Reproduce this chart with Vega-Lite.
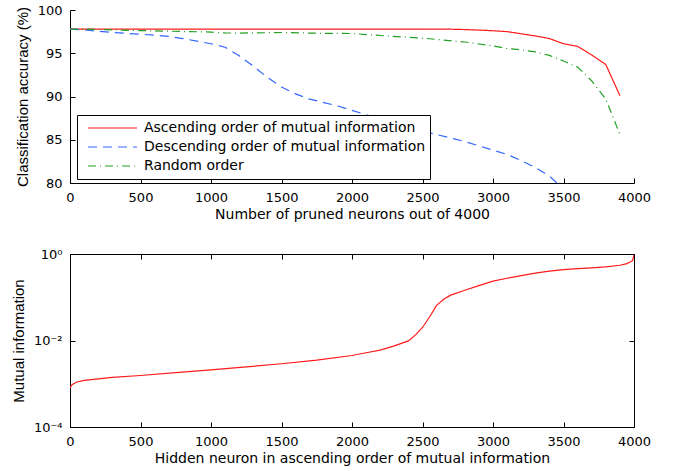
{
  "$schema": "https://vega.github.io/schema/vega-lite/v6.json",
  "padding": {"left": 10, "top": 4, "right": 10, "bottom": 4},
  "spacing": 26,
  "config": {
    "font": "DejaVu Sans",
    "axis": {
      "grid": false,
      "domainColor": "black",
      "tickColor": "black",
      "tickSize": -5,
      "labelFontSize": 13,
      "labelColor": "black",
      "titleFontSize": 14,
      "titleFontWeight": "normal",
      "titleColor": "black",
      "labelFont": "DejaVu Sans",
      "titleFont": "DejaVu Sans",
      "format": "d"
    },
    "axisX": {"labelPadding": 13, "titlePadding": 3, "labelFlush": false},
    "axisY": {"labelPadding": 13, "titlePadding": 7, "labelFlush": false, "titleFont": "Liberation Sans", "titleFontSize": 15}
  },
  "datasets": {
    "pruning": [
      {"n": 0, "acc": 97.8, "series": "Ascending order of mutual information"},
      {"n": 500, "acc": 97.8, "series": "Ascending order of mutual information"},
      {"n": 1000, "acc": 97.8, "series": "Ascending order of mutual information"},
      {"n": 1500, "acc": 97.8, "series": "Ascending order of mutual information"},
      {"n": 2000, "acc": 97.8, "series": "Ascending order of mutual information"},
      {"n": 2500, "acc": 97.8, "series": "Ascending order of mutual information"},
      {"n": 2700, "acc": 97.78, "series": "Ascending order of mutual information"},
      {"n": 2800, "acc": 97.74, "series": "Ascending order of mutual information"},
      {"n": 2900, "acc": 97.68, "series": "Ascending order of mutual information"},
      {"n": 3000, "acc": 97.6, "series": "Ascending order of mutual information"},
      {"n": 3100, "acc": 97.5, "series": "Ascending order of mutual information"},
      {"n": 3200, "acc": 97.25, "series": "Ascending order of mutual information"},
      {"n": 3300, "acc": 97.0, "series": "Ascending order of mutual information"},
      {"n": 3400, "acc": 96.7, "series": "Ascending order of mutual information"},
      {"n": 3500, "acc": 96.1, "series": "Ascending order of mutual information"},
      {"n": 3600, "acc": 95.8, "series": "Ascending order of mutual information"},
      {"n": 3700, "acc": 94.8, "series": "Ascending order of mutual information"},
      {"n": 3800, "acc": 93.7, "series": "Ascending order of mutual information"},
      {"n": 3900, "acc": 90.1, "series": "Ascending order of mutual information"},
      {"n": 0, "acc": 97.8, "series": "Descending order of mutual information"},
      {"n": 100, "acc": 97.7, "series": "Descending order of mutual information"},
      {"n": 200, "acc": 97.55, "series": "Descending order of mutual information"},
      {"n": 300, "acc": 97.4, "series": "Descending order of mutual information"},
      {"n": 400, "acc": 97.3, "series": "Descending order of mutual information"},
      {"n": 500, "acc": 97.2, "series": "Descending order of mutual information"},
      {"n": 600, "acc": 97.1, "series": "Descending order of mutual information"},
      {"n": 700, "acc": 96.95, "series": "Descending order of mutual information"},
      {"n": 800, "acc": 96.7, "series": "Descending order of mutual information"},
      {"n": 900, "acc": 96.4, "series": "Descending order of mutual information"},
      {"n": 1000, "acc": 96.1, "series": "Descending order of mutual information"},
      {"n": 1100, "acc": 95.7, "series": "Descending order of mutual information"},
      {"n": 1200, "acc": 94.7, "series": "Descending order of mutual information"},
      {"n": 1300, "acc": 93.5, "series": "Descending order of mutual information"},
      {"n": 1400, "acc": 92.2, "series": "Descending order of mutual information"},
      {"n": 1500, "acc": 91.1, "series": "Descending order of mutual information"},
      {"n": 1600, "acc": 90.3, "series": "Descending order of mutual information"},
      {"n": 1700, "acc": 89.7, "series": "Descending order of mutual information"},
      {"n": 1800, "acc": 89.3, "series": "Descending order of mutual information"},
      {"n": 1900, "acc": 88.9, "series": "Descending order of mutual information"},
      {"n": 2000, "acc": 88.4, "series": "Descending order of mutual information"},
      {"n": 2100, "acc": 87.9, "series": "Descending order of mutual information"},
      {"n": 2200, "acc": 87.4, "series": "Descending order of mutual information"},
      {"n": 2300, "acc": 86.9, "series": "Descending order of mutual information"},
      {"n": 2400, "acc": 86.4, "series": "Descending order of mutual information"},
      {"n": 2500, "acc": 86.0, "series": "Descending order of mutual information"},
      {"n": 2600, "acc": 85.6, "series": "Descending order of mutual information"},
      {"n": 2700, "acc": 85.2, "series": "Descending order of mutual information"},
      {"n": 2800, "acc": 84.8, "series": "Descending order of mutual information"},
      {"n": 2900, "acc": 84.3, "series": "Descending order of mutual information"},
      {"n": 3000, "acc": 83.8, "series": "Descending order of mutual information"},
      {"n": 3100, "acc": 83.3, "series": "Descending order of mutual information"},
      {"n": 3200, "acc": 82.6, "series": "Descending order of mutual information"},
      {"n": 3300, "acc": 81.8, "series": "Descending order of mutual information"},
      {"n": 3400, "acc": 80.8, "series": "Descending order of mutual information"},
      {"n": 3500, "acc": 79.3, "series": "Descending order of mutual information"},
      {"n": 0, "acc": 97.8, "series": "Random order"},
      {"n": 100, "acc": 97.8, "series": "Random order"},
      {"n": 200, "acc": 97.75, "series": "Random order"},
      {"n": 300, "acc": 97.7, "series": "Random order"},
      {"n": 500, "acc": 97.62, "series": "Random order"},
      {"n": 700, "acc": 97.55, "series": "Random order"},
      {"n": 1000, "acc": 97.45, "series": "Random order"},
      {"n": 1100, "acc": 97.35, "series": "Random order"},
      {"n": 1200, "acc": 97.33, "series": "Random order"},
      {"n": 1500, "acc": 97.4, "series": "Random order"},
      {"n": 1800, "acc": 97.3, "series": "Random order"},
      {"n": 2000, "acc": 97.28, "series": "Random order"},
      {"n": 2200, "acc": 97.05, "series": "Random order"},
      {"n": 2500, "acc": 96.75, "series": "Random order"},
      {"n": 2800, "acc": 96.3, "series": "Random order"},
      {"n": 3000, "acc": 95.85, "series": "Random order"},
      {"n": 3100, "acc": 95.55, "series": "Random order"},
      {"n": 3200, "acc": 95.4, "series": "Random order"},
      {"n": 3300, "acc": 95.15, "series": "Random order"},
      {"n": 3400, "acc": 94.75, "series": "Random order"},
      {"n": 3500, "acc": 94.1, "series": "Random order"},
      {"n": 3600, "acc": 93.4, "series": "Random order"},
      {"n": 3700, "acc": 91.8, "series": "Random order"},
      {"n": 3800, "acc": 89.7, "series": "Random order"},
      {"n": 3900, "acc": 85.6, "series": "Random order"}
    ],
    "mi": [
      {"rank": 0, "mi": 0.00079},
      {"rank": 10, "mi": 0.00092},
      {"rank": 25, "mi": 0.001},
      {"rank": 50, "mi": 0.0011},
      {"rank": 100, "mi": 0.0012},
      {"rank": 200, "mi": 0.0013},
      {"rank": 300, "mi": 0.0014},
      {"rank": 500, "mi": 0.00155},
      {"rank": 750, "mi": 0.0018},
      {"rank": 1000, "mi": 0.0021},
      {"rank": 1250, "mi": 0.00245},
      {"rank": 1500, "mi": 0.0029},
      {"rank": 1750, "mi": 0.0035},
      {"rank": 2000, "mi": 0.0045},
      {"rank": 2100, "mi": 0.0052},
      {"rank": 2200, "mi": 0.006},
      {"rank": 2300, "mi": 0.0075},
      {"rank": 2350, "mi": 0.0086},
      {"rank": 2400, "mi": 0.0098},
      {"rank": 2450, "mi": 0.0135},
      {"rank": 2500, "mi": 0.02},
      {"rank": 2550, "mi": 0.035},
      {"rank": 2600, "mi": 0.065},
      {"rank": 2650, "mi": 0.09},
      {"rank": 2700, "mi": 0.112},
      {"rank": 2800, "mi": 0.145},
      {"rank": 2900, "mi": 0.185},
      {"rank": 3000, "mi": 0.235},
      {"rank": 3100, "mi": 0.275},
      {"rank": 3200, "mi": 0.315},
      {"rank": 3300, "mi": 0.36},
      {"rank": 3400, "mi": 0.4},
      {"rank": 3500, "mi": 0.435},
      {"rank": 3600, "mi": 0.46},
      {"rank": 3700, "mi": 0.48},
      {"rank": 3800, "mi": 0.505},
      {"rank": 3900, "mi": 0.55},
      {"rank": 3950, "mi": 0.6},
      {"rank": 3990, "mi": 0.7},
      {"rank": 4000, "mi": 0.95}
    ]
  },
  "vconcat": [
    {
      "width": 564,
      "height": 173,
      "view": {"stroke": null},
      "data": {"name": "pruning"},
      "mark": {"type": "line", "clip": true, "strokeWidth": 1.2},
      "encoding": {
        "x": {
          "field": "n", "type": "quantitative",
          "scale": {"domain": [0, 4000], "nice": false},
          "axis": {"values": [0, 500, 1000, 1500, 2000, 2500, 3000, 3500, 4000], "title": "Number of pruned neurons out of 4000"}
        },
        "y": {
          "field": "acc", "type": "quantitative",
          "scale": {"domain": [80, 100], "nice": false, "zero": false},
          "axis": {"values": [80, 85, 90, 95, 100], "title": "Classification accuracy (%)"}
        },
        "color": {
          "field": "series", "type": "nominal",
          "scale": {
            "domain": ["Ascending order of mutual information", "Descending order of mutual information", "Random order"],
            "range": ["#ff1a1a", "#3366ff", "#22a022"]
          },
          "legend": {
            "title": null, "orient": "none", "legendX": 7, "legendY": 105,
            "strokeColor": "black", "fillColor": "white", "padding": 4,
            "symbolType": "stroke", "symbolSize": 2400, "symbolStrokeWidth": 1.2, "symbolOffset": 6,
            "labelFontSize": 14, "labelColor": "black", "labelOffset": 6, "labelFont": "DejaVu Sans",
            "rowPadding": 1, "clipHeight": 18, "labelLimit": 400
          }
        },
        "strokeDash": {
          "field": "series", "type": "nominal",
          "scale": {
            "domain": ["Ascending order of mutual information", "Descending order of mutual information", "Random order"],
            "range": [[1, 0], [9, 6], [8, 4, 1, 4]]
          },
          "legend": {
            "title": null, "orient": "none", "legendX": 7, "legendY": 105,
            "strokeColor": "black", "fillColor": "white", "padding": 4,
            "symbolType": "stroke", "symbolSize": 2400, "symbolStrokeWidth": 1.2, "symbolOffset": 6,
            "labelFontSize": 14, "labelColor": "black", "labelOffset": 6, "labelFont": "DejaVu Sans",
            "rowPadding": 1, "clipHeight": 18, "labelLimit": 400
          }
        }
      }
    },
    {
      "width": 564,
      "height": 173,
      "view": {"stroke": "black"},
      "data": {"name": "mi"},
      "layer": [
        {
          "mark": {"type": "line", "color": "#ff1a1a", "strokeWidth": 1.2, "clip": true},
          "encoding": {
            "x": {
              "field": "rank", "type": "quantitative",
              "scale": {"domain": [0, 4000], "nice": false},
              "axis": {"values": [0, 500, 1000, 1500, 2000, 2500, 3000, 3500, 4000], "title": "Hidden neuron in ascending order of mutual information"}
            },
            "y": {
              "field": "mi", "type": "quantitative",
              "scale": {"type": "log", "domain": [0.0001, 1], "nice": false},
              "axis": {"values": [0.0001, 0.01, 1], "title": "Mutual information",
                "labelExpr": "datum.value >= 0.5 ? '10⁰' : datum.value >= 0.005 ? '10⁻²' : '10⁻⁴'"}
            }
          }
        },
        {
          "mark": {"type": "line", "strokeOpacity": 0},
          "encoding": {
            "x": {
              "field": "rank", "type": "quantitative",
              "axis": {"orient": "top", "values": [0, 500, 1000, 1500, 2000, 2500, 3000, 3500, 4000], "labels": false, "title": null, "domain": false}
            },
            "y": {
              "field": "mi", "type": "quantitative",
              "axis": {"orient": "right", "values": [0.0001, 0.01, 1], "labels": false, "title": null, "domain": false}
            }
          }
        }
      ],
      "resolve": {"axis": {"x": "independent", "y": "independent"}}
    }
  ]
}
